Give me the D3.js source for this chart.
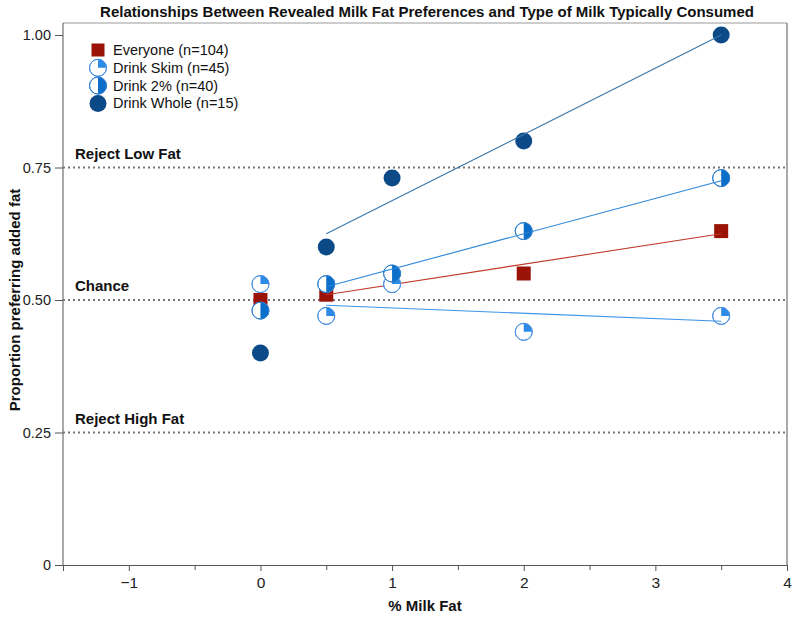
<!DOCTYPE html>
<html><head><meta charset="utf-8">
<script src="https://cdn.jsdelivr.net/npm/d3@7"></script>
<style>body{margin:0;background:#fff}svg{display:block}</style>
</head><body><svg id="c" width="799" height="619"></svg>
<script>
const title = "Relationships Between Revealed Milk Fat Preferences and Type of Milk Typically Consumed";
const xTicks = [-1, 0, 1, 2, 3, 4];
const xMinor = [-1.5, -0.5, 0.5, 1.5, 2.5, 3.5];
const yTicks = [0, 0.25, 0.5, 0.75, 1.0];
const yTickLabels = ["0", "0.25", "0.50", "0.75", "1.00"];
const refValues = [0.75, 0.5, 0.25];
const refLabels = ["Reject Low Fat", "Chance", "Reject High Fat"];

const everyoneX = [0, 0.5, 2, 3.5];
const everyoneY = [0.50, 0.51, 0.55, 0.63];
const skimX = [0, 0.5, 1, 2, 3.5];
const skimY = [0.53, 0.47, 0.53, 0.44, 0.47];
const twoX = [0, 0.5, 1, 2, 3.5];
const twoY = [0.48, 0.53, 0.55, 0.63, 0.73];
const wholeX = [0, 0.5, 1, 2, 3.5];
const wholeY = [0.40, 0.60, 0.73, 0.80, 1.00];

const fitX = [0.5, 3.5];
const everyoneFit = [0.51, 0.625];
const skimFit = [0.49, 0.46];
const twoFit = [0.525, 0.725];
const wholeFit = [0.625, 1.0];

const legendLabels = ["Everyone (n=104)", "Drink Skim (n=45)", "Drink 2% (n=40)", "Drink Whole (n=15)"];

const svg = d3.select("#c");
const L = 63, R = 787, T = 23, B = 565;
const x = d3.scaleLinear().domain([-1.5, 4]).range([L, R]);
const y = d3.scaleLinear().domain([0, 1]).range([B, 35]);

const red = "#9a1306", redLine = "#c0392b";
const skimFill = "#2b8be6", skimStroke = "#4a90e2", skimLine = "#3d95e8";
const twoFill = "#0b6ec9", twoStroke = "#2f80d0", twoLine = "#2a86d6";
const wholeFill = "#0b4a87", wholeLine = "#3a76a8";
const narrow = "'Liberation Sans Narrow', 'Arial Narrow', Arial, sans-serif";
const sans = "'Liberation Sans', Arial, sans-serif";

// title
svg.append("text").attr("x", 427).attr("y", 17).attr("text-anchor", "middle")
  .attr("font-family", narrow).attr("font-stretch", "condensed")
  .attr("font-weight", "bold").attr("font-size", 15).attr("fill", "#111").text(title);

// frame
svg.append("line").attr("x1", L).attr("x2", R).attr("y1", T).attr("y2", T).attr("stroke", "#999").attr("stroke-width", 1);
svg.append("line").attr("x1", R).attr("x2", R).attr("y1", T).attr("y2", B).attr("stroke", "#555").attr("stroke-width", 1);

// axes
const xAxis = d3.axisBottom(x).tickValues(xTicks).tickSize(6).tickPadding(6)
  .tickFormat(d => d < 0 ? "\u2212" + Math.abs(d) : d);
const gx = svg.append("g").attr("transform", `translate(0,${B})`).call(xAxis);
gx.selectAll("text").attr("font-family", narrow).attr("font-stretch", "condensed")
  .attr("font-size", 15.5).attr("fill", "#222");
gx.select(".domain").attr("stroke", "#555");
gx.selectAll(".tick line").attr("stroke", "#555");
const gxm = svg.append("g").attr("transform", `translate(0,${B})`)
  .call(d3.axisBottom(x).tickValues(xMinor).tickSize(5).tickFormat(""));
gxm.select(".domain").remove();
gxm.selectAll(".tick line").attr("stroke", "#555");

const yAxis = d3.axisLeft(y).tickValues(yTicks).tickSize(8).tickPadding(4)
  .tickFormat((d, i) => yTickLabels[i]);
const gy = svg.append("g").attr("transform", `translate(${L},0)`).call(yAxis);
gy.select(".domain").attr("d", `M0,${B}V${T}`).attr("stroke", "#555");
gy.selectAll(".tick line").attr("stroke", "#555");
gy.selectAll("text").attr("font-family", sans).attr("font-size", 14.5).attr("fill", "#222");

// axis titles
svg.append("text").attr("x", 425).attr("y", 611).attr("text-anchor", "middle")
  .attr("font-family", narrow).attr("font-stretch", "condensed")
  .attr("font-weight", "bold").attr("font-size", 15).attr("fill", "#111").text("% Milk Fat");
svg.append("text").attr("transform", `translate(20,${y(0.5)}) rotate(-90)`).attr("text-anchor", "middle")
  .attr("font-family", sans)
  .attr("font-weight", "bold").attr("font-size", 15).attr("fill", "#111").text("Proportion preferring added fat");

// reference lines
refValues.forEach((v, i) => {
  svg.append("line").attr("x1", L).attr("x2", R).attr("y1", y(v)).attr("y2", y(v))
    .attr("stroke", "#777").attr("stroke-width", 2).attr("stroke-dasharray", "2,3");
  svg.append("text").attr("x", 75).attr("y", y(v) - 9)
    .attr("font-family", sans)
    .attr("font-weight", "bold").attr("font-size", 15).attr("fill", "#111").text(refLabels[i]);
});

// fit lines
function fit(vals, color) {
  svg.append("line").attr("x1", x(fitX[0])).attr("x2", x(fitX[1]))
    .attr("y1", y(vals[0])).attr("y2", y(vals[1])).attr("stroke", color).attr("stroke-width", 1.1);
}

const r = 8.5;
const arc = d3.arc();
function pieMarker(g, cx, cy, frac, fill, stroke) {
  const m = g.append("g").attr("transform", `translate(${cx},${cy})`);
  m.append("circle").attr("r", r).attr("fill", "#fff").attr("stroke", stroke).attr("stroke-width", 1);
  m.append("path").attr("d", arc({innerRadius: 0, outerRadius: r, startAngle: 0, endAngle: 2 * Math.PI * frac})).attr("fill", fill);
  m.append("circle").attr("r", r).attr("fill", "none").attr("stroke", stroke).attr("stroke-width", 1);
}
function square(g, cx, cy, s) {
  g.append("rect").attr("x", cx - s / 2).attr("y", cy - s / 2).attr("width", s).attr("height", s).attr("fill", red);
}

const g = svg.append("g");
fit(everyoneFit, redLine);
everyoneX.forEach((d, i) => square(g, x(d), y(everyoneY[i]), 14));
fit(wholeFit, wholeLine);
wholeX.forEach((d, i) => g.append("circle").attr("cx", x(d)).attr("cy", y(wholeY[i])).attr("r", r).attr("fill", wholeFill));
const g2 = svg.append("g");
skimX.forEach((d, i) => pieMarker(g2, x(d), y(skimY[i]), 0.25, skimFill, skimStroke));
fit(skimFit, skimLine);
twoX.forEach((d, i) => pieMarker(g2, x(d), y(twoY[i]), 0.5, twoFill, twoStroke));
fit(twoFit, twoLine);

// legend
const lg = svg.append("g");
const ly0 = 50, ldy = 17.8, lmx = 98, ltx = 113;
legendLabels.forEach((t, i) => {
  const cy = ly0 + i * ldy;
  if (i === 0) square(lg, lmx, cy, 13);
  else if (i === 1) pieMarker(lg, lmx, cy, 0.25, skimFill, skimStroke);
  else if (i === 2) pieMarker(lg, lmx, cy, 0.5, twoFill, twoStroke);
  else lg.append("circle").attr("cx", lmx).attr("cy", cy).attr("r", r).attr("fill", wholeFill);
  lg.append("text").attr("x", ltx).attr("y", cy + 5)
    .attr("font-family", sans).attr("font-size", 14.5).attr("fill", "#111").text(t);
});
</script></body></html>
